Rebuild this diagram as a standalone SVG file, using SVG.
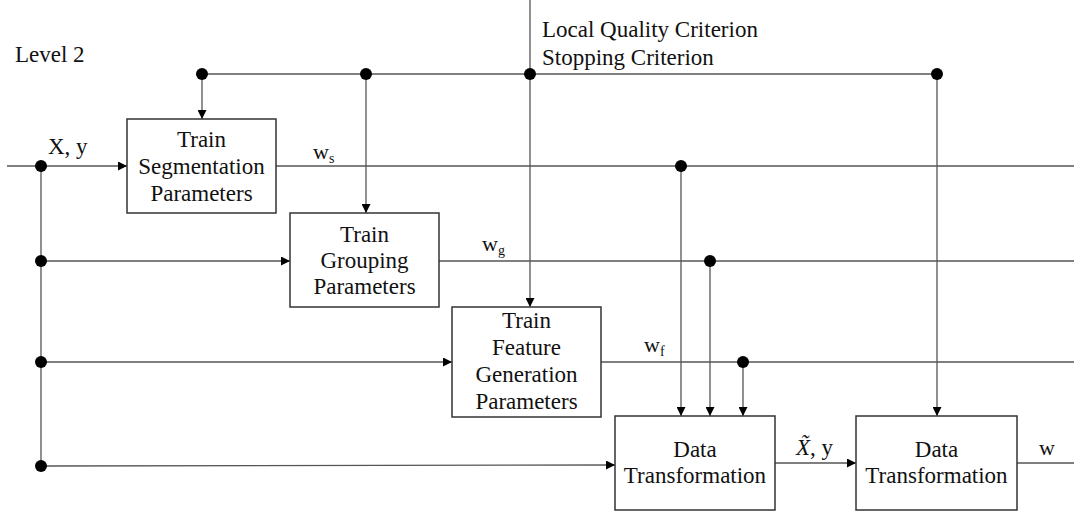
<svg xmlns="http://www.w3.org/2000/svg" width="1074" height="512" viewBox="0 0 1074 512">
<style>
text{font-family:"Liberation Serif","Times New Roman",serif;fill:#111}
.t{font-size:23px}
.c{text-anchor:middle}
.w{font-size:22px}
.s{font-size:14px}
.box{fill:#fff;stroke:#333;stroke-width:1.5}
.ln{fill:none;stroke:#555;stroke-width:1.3}
.dot{fill:#000}
</style>
<defs>
<marker id="ah" viewBox="0 0 10 10" refX="10" refY="5" markerWidth="9" markerHeight="9" markerUnits="userSpaceOnUse" orient="auto">
<path d="M0,0 L10,5 L0,10 z" fill="#000"/>
</marker>
</defs>
<rect width="1074" height="512" fill="#fff"/>
<text class="t" x="15" y="62">Level 2</text>
<text class="t" x="542" y="37">Local Quality Criterion</text>
<text class="t" x="542" y="65">Stopping Criterion</text>
<g id="connectors">
<path class="ln" d="M202,74 H937"/>
<path class="ln" d="M202,74 V119" marker-end="url(#ah)"/>
<path class="ln" d="M366,74 V213" marker-end="url(#ah)"/>
<path class="ln" d="M530,0 V307" marker-end="url(#ah)"/>
<path class="ln" d="M937,74 V416" marker-end="url(#ah)"/>
<path class="ln" d="M7,166 H127" marker-end="url(#ah)"/>
<path class="ln" d="M41,166 V466"/>
<path class="ln" d="M41,261 H290" marker-end="url(#ah)"/>
<path class="ln" d="M41,362 H452" marker-end="url(#ah)"/>
<path class="ln" d="M41,466 L615,465" marker-end="url(#ah)"/>
<path class="ln" d="M276,166 H1074"/>
<path class="ln" d="M439,261 H1074"/>
<path class="ln" d="M601,362 H1074"/>
<path class="ln" d="M681,166 V416" marker-end="url(#ah)"/>
<path class="ln" d="M710,261 V416" marker-end="url(#ah)"/>
<path class="ln" d="M743,362 V416" marker-end="url(#ah)"/>
<path class="ln" d="M775,463 H856" marker-end="url(#ah)"/>
<path class="ln" d="M1017,463 H1074"/>
<circle class="dot" cx="202" cy="74" r="6"/>
<circle class="dot" cx="366" cy="74" r="6"/>
<circle class="dot" cx="530" cy="74" r="6"/>
<circle class="dot" cx="937" cy="74" r="6"/>
<circle class="dot" cx="41" cy="166" r="6"/>
<circle class="dot" cx="41" cy="261" r="6"/>
<circle class="dot" cx="41" cy="362" r="6"/>
<circle class="dot" cx="41" cy="466" r="6"/>
<circle class="dot" cx="681" cy="166" r="6"/>
<circle class="dot" cx="710" cy="261" r="6"/>
<circle class="dot" cx="743" cy="362" r="6"/>
<text class="t" x="48" y="154">X, y</text>
<text class="w" x="313" y="159">w<tspan class="s" dy="4">s</tspan></text>
<text class="w" x="482" y="251">w<tspan class="s" dy="4">g</tspan></text>
<text class="w" x="644" y="352">w<tspan class="s" dy="4">f</tspan></text>
<text class="t" x="796" y="455"><tspan font-style="italic">X̃</tspan>, y</text>
<text class="w" x="1039" y="455">w</text>
</g>
<g id="seg">
<rect class="box" x="127" y="119" width="149" height="94"/>
<text class="t c" x="201.5" y="147">Train</text>
<text class="t c" x="201.5" y="174">Segmentation</text>
<text class="t c" x="201.5" y="201">Parameters</text>
</g>
<g id="grp">
<rect class="box" x="290" y="213" width="149" height="94"/>
<text class="t c" x="364.5" y="242">Train</text>
<text class="t c" x="364.5" y="268">Grouping</text>
<text class="t c" x="364.5" y="294">Parameters</text>
</g>
<g id="feat">
<rect class="box" x="452" y="307" width="149" height="110"/>
<text class="t c" x="526.5" y="328">Train</text>
<text class="t c" x="526.5" y="355">Feature</text>
<text class="t c" x="526.5" y="382">Generation</text>
<text class="t c" x="526.5" y="409">Parameters</text>
</g>
<g id="dt1">
<rect class="box" x="615" y="416" width="160" height="94"/>
<text class="t c" x="695" y="457">Data</text>
<text class="t c" x="695" y="483">Transformation</text>
</g>
<g id="dt2">
<rect class="box" x="856" y="416" width="161" height="94"/>
<text class="t c" x="936.5" y="457">Data</text>
<text class="t c" x="936.5" y="483">Transformation</text>
</g>
</svg>
